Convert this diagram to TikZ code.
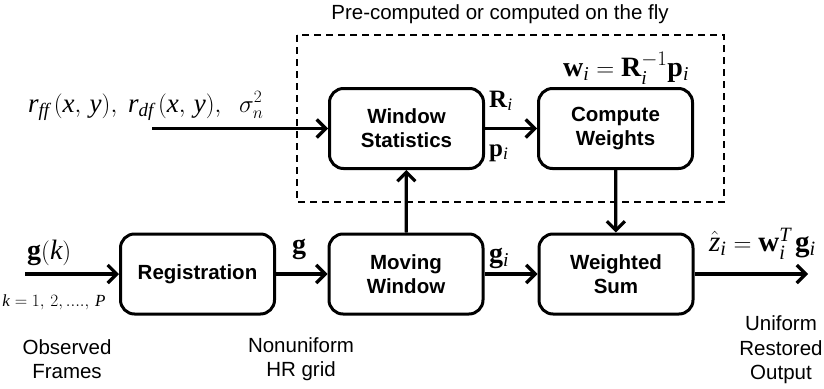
\documentclass[tikz,border=0pt]{standalone}
\usepackage{amsmath}
\usepackage{fontspec}
\setmainfont{Liberation Serif}
\setsansfont{Liberation Sans}
\usetikzlibrary{arrows.meta}
\tikzset{
  blk/.style={draw, line width=3pt, rounded corners=14pt, minimum width=154pt,
    minimum height=80pt, align=center, inner sep=0pt,
    font=\sffamily\bfseries\fontsize{20.5}{24}\selectfont},
  arr/.style={line width=3.2pt, -{Straight Barb[length=9pt,width=18pt]}},
  capt/.style={align=center, inner sep=0pt, font=\sffamily\fontsize{20.5}{24.5}\selectfont},
  lbl/.style={inner sep=0pt, anchor=base west},
  big/.style={font=\fontsize{28}{30}\selectfont},
  mid/.style={font=\fontsize{25}{28}\selectfont},
}
\begin{document}
\begin{tikzpicture}[x=1pt,y=-1pt]
\useasboundingbox (0,0) rectangle (824,388);
% dashed region
\draw[line width=2pt, dash pattern=on 7pt off 5pt] (297,35) rectangle (724,202);
\node[capt] (pre) at (500,14) {Pre-computed or computed on the fly};
% blocks
\node[blk] (ws)  at (406.5,128.5) {Window\\Statistics};
\node[blk] (cw)  at (615.5,128.5) {Compute\\Weights};
\node[blk] (reg) at (197.5,274) {Registration};
\node[blk] (mw)  at (406,274) {Moving\\Window};
\node[blk] (sum) at (616,274) {Weighted\\Sum};
% free ends
\coordinate (inR) at (152,128.5);
\coordinate (inG) at (25,274);
\coordinate (outZ) at (808,274);
% connectors
\draw[arr] (inR) -- (ws.west);
\draw[arr] (ws) -- (cw);
\draw[arr] (inG) -- (reg.west);
\draw[arr] (reg) -- (mw);
\draw[arr] (mw) -- (sum);
\draw[arr] (mw) -- (ws);
\draw[arr] (cw) -- (sum);
\draw[arr] (sum.east) -- (outZ);
% labels
\node[lbl, font=\fontsize{27}{30}\selectfont] (rlab) at (28,112)
  {$\mathit{r}_{\mathit{ff}}\,(\mathit{x},\,\mathit{y}),\ \mathit{r}_{\mathit{df}}\,(\mathit{x},\,\mathit{y}),\ \ \sigma_n^2$};
\node[lbl, big] (gk) at (27,259) {$\mathbf{g}(\mathit{k})$};
\node[inner sep=0pt, font=\fontsize{17}{20}\selectfont] (kr) at (54,302) {$\mathit{k}=1,\,2,....,\,\mathit{P}$};
\node[lbl, big] (glab) at (292,253) {$\mathbf{g}$};
\node[lbl, big] (gilab) at (489,262) {$\mathbf{g}_{\mathit{i}}$};
\node[lbl, mid] (Rlab) at (489,107) {$\mathbf{R}_{\mathit{i}}$};
\node[lbl, mid] (plab) at (489,156) {$\mathbf{p}_{\mathit{i}}$};
\node[lbl, big] (wlab) at (563,76) {$\mathbf{w}_{\mathit{i}}=\mathbf{R}_{\mathit{i}}^{-1}\mathbf{p}_{\mathit{i}}$};
\node[lbl, font=\fontsize{29}{31}\selectfont] (zlab) at (709,251) {$\hat{\mathit{z}}_{\mathit{i}}=\mathbf{w}_{\mathit{i}}^{\mathit{T}}\,\mathbf{g}_{\mathit{i}}$};
% captions
\node[capt] (obs) at (67,359) {Observed\\Frames};
\node[capt] (non) at (301,359) {Nonuniform\\HR grid};
\node[capt] (uni) at (781,350) {Uniform\\Restored\\Output};
\end{tikzpicture}
\end{document}
